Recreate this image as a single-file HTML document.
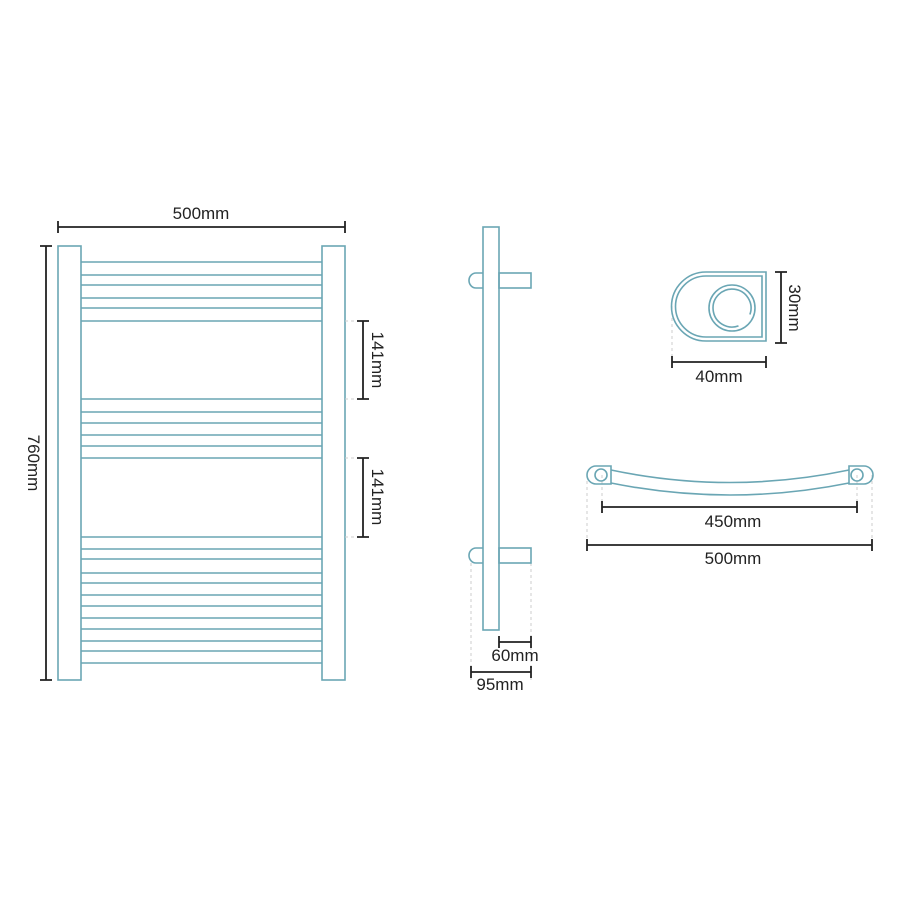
<!DOCTYPE html>
<html><head><meta charset="utf-8"><style>
html,body{margin:0;padding:0;background:#fff;}
svg{display:block}
text{font-family:"Liberation Sans",sans-serif;font-size:17px;fill:#222;}
</style></head><body>
<svg width="900" height="900" viewBox="0 0 900 900" xmlns="http://www.w3.org/2000/svg">
<g fill="none" stroke="#6aa6b4" stroke-width="1.6">
 <rect x="58" y="246" width="23" height="434"/>
 <rect x="322" y="246" width="23" height="434"/>
</g>
<g stroke="#6aa6b4" stroke-width="1.6">
 <path d="M81 262H322M81 275H322M81 285H322M81 298H322M81 308H322M81 321H322
 M81 399H322M81 412H322M81 423H322M81 435H322M81 446H322M81 458H322
 M81 537H322M81 549H322M81 559H322M81 573H322M81 583H322M81 595H322M81 606H322M81 618H322M81 629H322M81 641H322M81 651H322M81 663H322"/>
</g>
<g stroke="#ccc" stroke-width="1" stroke-dasharray="3,3">
 <path d="M345 321H363M345 399H363M345 458H363M345 537H363"/>
 <path d="M471 563V680M531 563V680M587 475V545M872 475V545M602 475V507M857 475V507M672 300V362"/>
</g>
<g stroke="#222" stroke-width="1.8" fill="none">
 <path d="M58 227H345M58 221V233M345 221V233"/>
 <path d="M46 246V680M40 246H52M40 680H52"/>
 <path d="M363 321V399M357 321H369M357 399H369"/>
 <path d="M363 458V537M357 458H369M357 537H369"/>
 <path d="M499 642H531M499 636V648M531 636V648"/>
 <path d="M471 672H531M471 666V678M531 666V678"/>
 <path d="M781 272V343M775 272H787M775 343H787"/>
 <path d="M672 362H766M672 356V368M766 356V368"/>
 <path d="M602 507H857M602 501V513M857 501V513"/>
 <path d="M587 545H872M587 539V551M872 539V551"/>
</g>
<text x="201" y="219" text-anchor="middle">500mm</text>
<text transform="translate(28,463) rotate(90)" text-anchor="middle">760mm</text>
<text transform="translate(372,360) rotate(90)" text-anchor="middle">141mm</text>
<text transform="translate(372,497) rotate(90)" text-anchor="middle">141mm</text>
<text x="515" y="661" text-anchor="middle">60mm</text>
<text x="500" y="690" text-anchor="middle">95mm</text>
<text transform="translate(789,308) rotate(90)" text-anchor="middle">30mm</text>
<text x="719" y="382" text-anchor="middle">40mm</text>
<text x="733" y="527" text-anchor="middle">450mm</text>
<text x="733" y="564" text-anchor="middle">500mm</text>
<g fill="none" stroke="#6aa6b4" stroke-width="1.6">
 <rect x="483" y="227" width="16" height="403"/>
 <rect x="499" y="273" width="32" height="15"/>
 <rect x="499" y="548" width="32" height="15"/>
 <path d="M483 273H476A7 7.5 0 0 0 476 288H483"/>
 <path d="M483 548H476A7 7.5 0 0 0 476 563H483"/>
 <path d="M766 272V341H706A34.5 34.5 0 0 1 706 272Z"/>
 <path d="M762 276V337H706A30.5 30.5 0 0 1 706 276Z"/>
 <circle cx="732" cy="308" r="23"/>
 <path d="M738.5 325.9A19 19 0 1 1 749.9 314.5"/>
 <path d="M611 466H596A9 9 0 0 0 596 484H611Z"/>
 <circle cx="601" cy="475" r="6"/>
 <path d="M849 466H864A9 9 0 0 1 864 484H849Z"/>
 <circle cx="857" cy="475" r="6"/>
 <path d="M611 470Q730 495 849 470"/>
 <path d="M611 483Q730 507 849 483"/>
</g>
</svg>
</body></html>
